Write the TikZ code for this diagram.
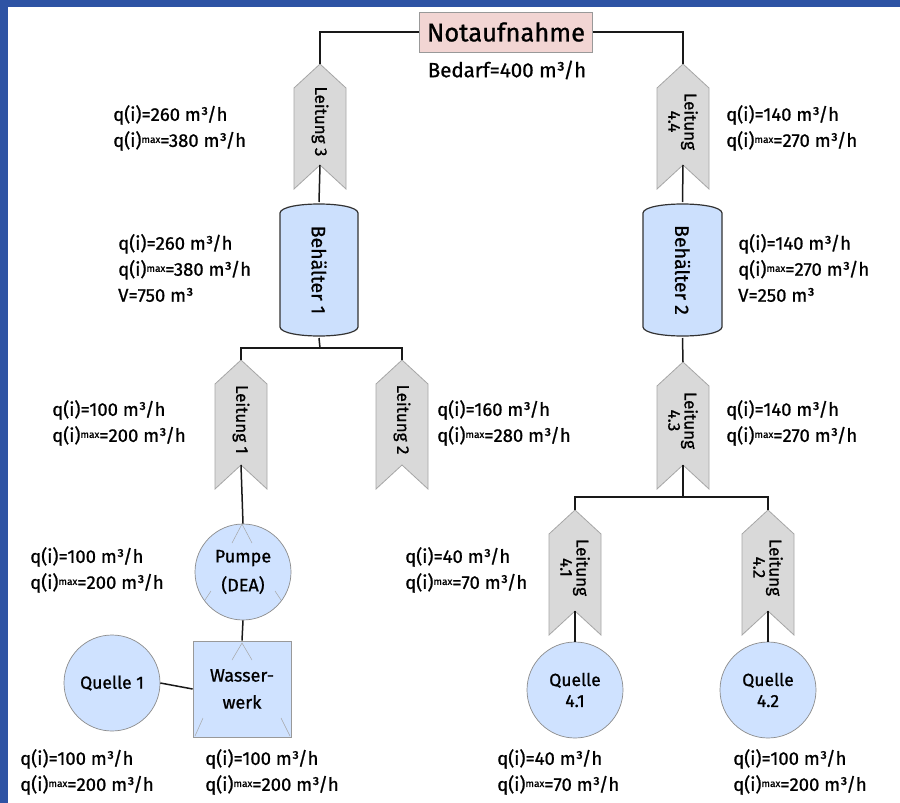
\documentclass[tikz,border=0pt]{standalone}
\usepackage{fontspec}
\setmainfont{Fira Sans}[FakeBold=0.9]
\setsansfont{Fira Sans}[FakeBold=0.9]
\definecolor{framecol}{HTML}{2E53A4}
\definecolor{tankfill}{HTML}{CCE0FD}
\definecolor{srcfill}{HTML}{CFE2FF}
\definecolor{pipefill}{HTML}{D9D9D9}
\definecolor{pipeedge}{HTML}{A6A6A6}
\definecolor{headfill}{HTML}{F2D5D3}
\newcommand\qq{q(i)}
\newcommand\qmax{q(i)\raisebox{0.4ex}{\fontsize{10}{10}\selectfont max}}
\newcommand\leitung[5]{% name, centre x, tip y, bottom y, text
  \draw[pipe] (#2,#3) -- (#2+26,#3+24) -- (#2+26,#4) -- (#2,#4-24)
    -- (#2-26,#4) -- (#2-26,#3+24) -- cycle;
  \coordinate (#1-tip) at (#2,#3);
  \coordinate (#1-notch) at (#2,#4-24);
  \node[pipetext] (#1) at (#2,{(#3+#4)/2-5}) {#5};
}
\newcommand\behaelter[4]{% name, left x, right x, text
  \draw[tank] (#2,213) .. controls (#2+1,201) and (#3-1,201) .. (#3,213)
    -- (#3,327) .. controls (#3-1,339) and (#2+1,339) .. (#2,327) -- cycle;
  \coordinate (#1-top) at ({(#2+#3)/2},202);
  \coordinate (#1-bot) at ({(#2+#3)/2},338);
  \node[pipetext,font=\fontsize{19.5}{20}\selectfont] (#1) at ({(#2+#3)/2},270) {#4};
}
\tikzset{
  pipe/.style={fill=pipefill,draw=pipeedge,line width=0.8pt,line join=miter},
  pipetext/.style={rotate=-90,align=center,inner sep=0pt,
    font=\fontsize{17}{12.5}\selectfont},
  tank/.style={fill=tankfill,draw=black!80,line width=1.2pt},
  source/.style={circle,fill=srcfill,draw=black!45,line width=0.7pt,
    minimum size=96pt,inner sep=0pt,align=center,
    font=\fontsize{17.5}{21}\selectfont},
  link/.style={draw=black!90,line width=1.5pt},
  lab/.style={anchor=west,align=left,inner sep=0pt,
    font=\fontsize{18.5}{26}\selectfont},
  flowmark/.style={draw=black!35,line width=0.5pt}
}
\begin{document}
\begin{tikzpicture}[x=1pt,y=-1pt]
\useasboundingbox (0,0) rectangle (900,803);
\fill[white] (0,0) rectangle (900,803);
% frame bands
\fill[framecol] (0,0) rectangle (900,7);
\fill[framecol] (0,0) rectangle (8,803);

% head node
\node[fill=headfill,draw=black!40,line width=0.8pt,minimum width=173pt,
  minimum height=40pt,inner sep=0pt,font=\fontsize{25.5}{27}\selectfont]
  (nota) at (506,32) {Notaufnahme};
\node[inner sep=0pt,font=\fontsize{20.5}{22}\selectfont] (bedarf) at (507,70)
  {Bedarf=400 m³/h};

% pipes
\leitung{l3}{320}{64}{189}{Leitung 3}
\leitung{l44}{683}{64}{189}{Leitung\\4.4}
\leitung{l1}{241}{360}{489}{Leitung 1}
\leitung{l2}{402}{360}{489}{Leitung 2}
\leitung{l43}{683}{362}{489}{Leitung\\4.3}
\leitung{l41}{575}{510}{635}{Leitung\\4.1}
\leitung{l42}{768}{510}{635}{Leitung\\4.2}

% tanks
\behaelter{b1}{280}{358}{Behälter 1}
\behaelter{b2}{643}{722}{Behälter 2}

% pump, works and sources
\node[source,font=\fontsize{18}{29}\selectfont] (pumpe) at (243,572) {Pumpe\\(DEA)};
\node[fill=srcfill,draw=black!40,line width=0.7pt,minimum width=98pt,
  minimum height=96pt,inner sep=0pt,align=center,
  font=\fontsize{18}{27}\selectfont] (werk) at (242,689) {Wasser-\\werk};
\node[source] (q1) at (112,683) {Quelle 1};
\node[source] (q41) at (575,690) {Quelle\\4.1};
\node[source] (q42) at (768,690) {Quelle\\4.2};

% faint flow marks
\draw[flowmark] (232,543) -- (242,524) -- (252,543);
\draw[flowmark] (205,600) -- (211,591);
\draw[flowmark] (275,591) -- (281,600);
\draw[flowmark] (232,660) -- (242,643) -- (252,660);
\draw[flowmark] (195,736) -- (203,718);
\draw[flowmark] (281,718) -- (290,736);

% connectors
\coordinate (j1) at (320,348);
\coordinate (j2) at (683,497);
\draw[link] (nota.west) -| (l3-tip);
\draw[link] (nota.east) -| (l44-tip);
\draw[link] (l3-notch) -- (b1-top);
\draw[link] (l44-notch) -- (b2-top);
\draw[link] (b1-bot) -- (j1);
\draw[link] (l1-tip) |- (j1) -| (l2-tip);
\draw[link] (l1-notch) -- (pumpe.north);
\draw[link] (pumpe.south) -- (werk.north);
\draw[link] (q1.east) -- (werk.west);
\draw[link] (b2-bot) -- (l43-tip);
\draw[link] (l43-notch) -- (j2);
\draw[link] (l41-tip) |- (j2) -| (l42-tip);
\draw[link] (l41-notch) -- (q41.north);
\draw[link] (l42-notch) -- (q42.north);

% flow labels
\node[lab] (t3) at (113,128) {\qq=260 m³/h\\\qmax=380 m³/h};
\node[lab] (t44) at (726,128) {\qq=140 m³/h\\\qmax=270 m³/h};
\node[lab] (tb1) at (118,268) {\qq=260 m³/h\\\qmax=380 m³/h\\V=750 m³};
\node[lab] (tb2) at (738,268) {\qq=140 m³/h\\\qmax=270 m³/h\\V=250 m³};
\node[lab] (t1) at (52,423) {\qq=100 m³/h\\\qmax=200 m³/h};
\node[lab] (t2) at (437,423) {\qq=160 m³/h\\\qmax=280 m³/h};
\node[lab] (t43) at (726,423) {\qq=140 m³/h\\\qmax=270 m³/h};
\node[lab] (tp) at (30,570) {\qq=100 m³/h\\\qmax=200 m³/h};
\node[lab] (t41) at (405,570) {\qq=40 m³/h\\\qmax=70 m³/h};
\node[lab] (tq1) at (20,772) {\qq=100 m³/h\\\qmax=200 m³/h};
\node[lab] (tw) at (205,772) {\qq=100 m³/h\\\qmax=200 m³/h};
\node[lab] (tq41) at (497,772) {\qq=40 m³/h\\\qmax=70 m³/h};
\node[lab] (tq42) at (733,772) {\qq=100 m³/h\\\qmax=200 m³/h};
\end{tikzpicture}
\end{document}
